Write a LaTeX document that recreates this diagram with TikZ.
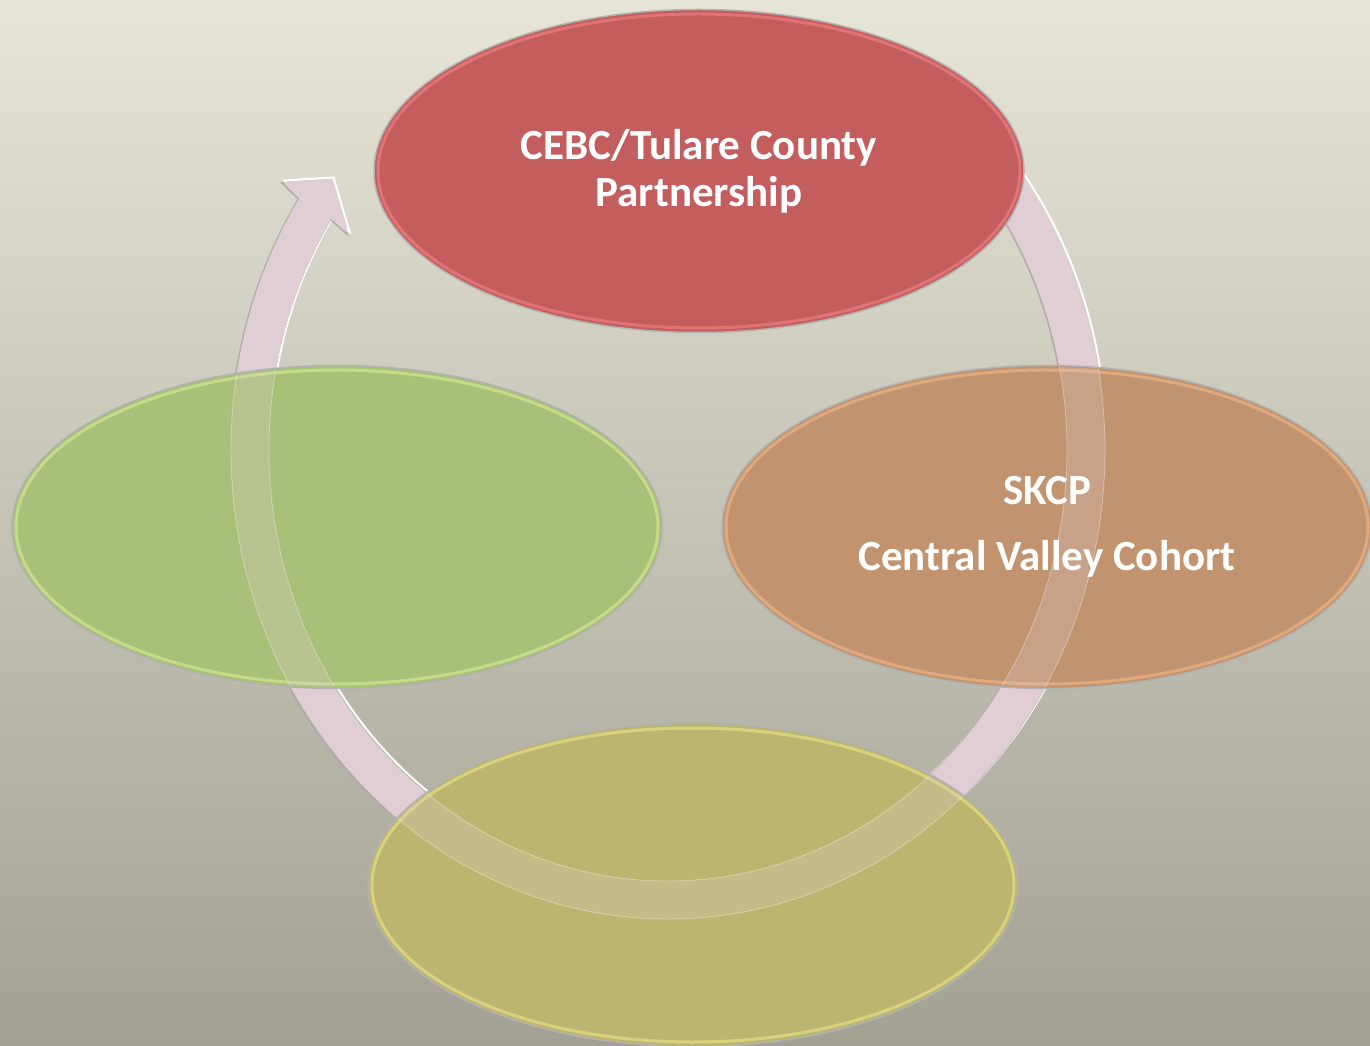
\documentclass[tikz,border=0pt]{standalone}
\usepackage{fontspec}
\setmainfont{Carlito}
\usetikzlibrary{shapes.geometric}

\definecolor{bgtop}{RGB}{231,229,215}
\definecolor{bgbot}{RGB}{163,161,148}
\definecolor{cebcred}{RGB}{195,93,94}
\definecolor{cebcrim}{RGB}{238,125,128}
\definecolor{skcporange}{RGB}{193,148,111}
\definecolor{skcprim}{RGB}{238,178,132}
\definecolor{leafgreen}{RGB}{169,192,120}
\definecolor{leafrim}{RGB}{208,232,145}
\definecolor{olivefill}{RGB}{188,181,112}
\definecolor{oliverim}{RGB}{228,222,132}
\definecolor{arrowpink}{RGB}{224,206,212}
\definecolor{arrowedge}{RGB}{176,170,170}

\tikzset{
  blob/.style={ellipse, minimum width=650pt, minimum height=323pt, inner sep=0pt,
    draw=black!30, line width=1.5pt},
  rim/.style={line width=3pt, opacity=0.7},
  blobtext/.style={text=white, font=\fontsize{43}{47}\selectfont\bfseries, align=center}
}

% ring of the cycle arrow (centre 668,595)
\newcommand\cyclering{([shift={(668,595)}]45:437 and 469)
  arc[start angle=45, end angle=-212.5, x radius=437, y radius=469]
  -- (283,863) -- (332,866) -- (348,812)
  -- ([shift={(668,595)}]-212.5:399 and 431)
  arc[start angle=-212.5, end angle=45, x radius=399, y radius=431] -- cycle}

\begin{document}
\begin{tikzpicture}[x=1pt,y=1pt]
  \useasboundingbox (0,0) rectangle (1370,1045);
  \clip (0,0) rectangle (1370,1045);
  \shade[top color=bgtop, bottom color=bgbot] (0,0) rectangle (1370,1045);

  % the arrow
  \begin{scope}[shift={(1.5,1.5)}]
    \draw[white, line width=2pt] \cyclering;
  \end{scope}
  \begin{scope}[shift={(-1,-1)}]
    \draw[arrowedge, line width=1.5pt] \cyclering;
  \end{scope}
  \fill[arrowpink] \cyclering;

  % the four ellipses
  \node[blob, fill=cebcred] (cebc) at (699,874) {};
  \node[blob, fill=skcporange] (skcp) at (1047,518) {};
  \node[blob, fill=leafgreen] (leaf) at (337,518) {};
  \node[blob, fill=olivefill] (olive) at (693,160) {};

  \draw[rim, cebcrim] (cebc.center) ellipse[x radius=321, y radius=157];
  \draw[rim, skcprim] (skcp.center) ellipse[x radius=321, y radius=157];
  \draw[rim, leafrim] (leaf.center) ellipse[x radius=321, y radius=157];
  \draw[rim, oliverim] (olive.center) ellipse[x radius=321, y radius=157];

  % arrow seen through the ellipses
  \begin{scope}
    \clip (skcp.center) ellipse[x radius=324, y radius=160]
          (leaf.center) ellipse[x radius=324, y radius=160]
          (olive.center) ellipse[x radius=324, y radius=160];
    \fill[arrowpink, fill opacity=0.25] \cyclering;
    \draw[white, opacity=0.35, line width=0.8pt] \cyclering;
  \end{scope}

  \node[blobtext] (cebctext) at (cebc.center) {CEBC/Tulare County\\Partnership};
  \node[blobtext] (skcptext) at (skcp.center) {SKCP\\[19pt]Central Valley Cohort};
\end{tikzpicture}
\end{document}
